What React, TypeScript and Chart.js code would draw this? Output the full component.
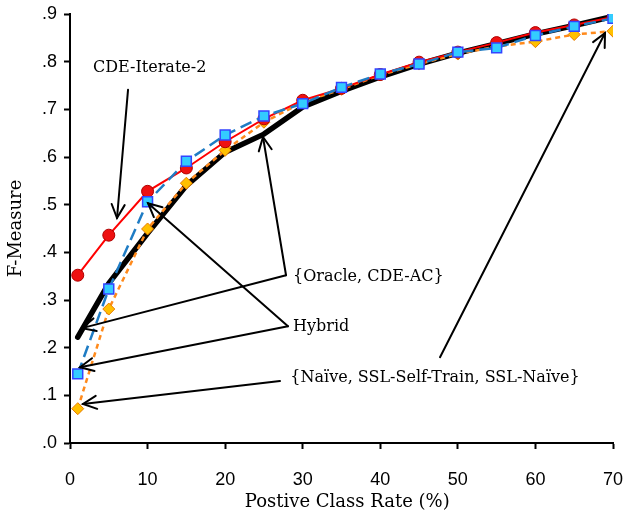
import React, { useEffect, useRef } from "react";
import { Chart, registerables } from "chart.js";

Chart.register(...registerables);

// ---- data ----
const xValues = [1, 5, 10, 15, 20, 25, 30, 35, 40, 45, 50, 55, 60, 65, 70];
const cdeIterate2 = [0.352, 0.436, 0.528, 0.577, 0.632, 0.68, 0.719, 0.744, 0.773, 0.799, 0.82, 0.84, 0.861, 0.877, 0.894];
const oracleCdeAc = [0.222, 0.335, 0.44, 0.54, 0.61, 0.648, 0.705, 0.738, 0.768, 0.795, 0.818, 0.838, 0.858, 0.876, 0.895];
const hybrid = [0.145, 0.323, 0.506, 0.591, 0.646, 0.686, 0.712, 0.746, 0.774, 0.795, 0.82, 0.829, 0.855, 0.874, 0.891];
const naive = [0.072, 0.281, 0.449, 0.545, 0.614, 0.673, 0.715, 0.742, 0.772, 0.795, 0.816, 0.832, 0.842, 0.857, 0.864];

const xTickLabels = ["0", "10", "20", "30", "40", "50", "60", "70"];
const yTickLabels = [".0", ".1", ".2", ".3", ".4", ".5", ".6", ".7", ".8", ".9"];

// annotation texts (data coordinates: x = left start, y = vertical middle)
const noteTexts = ["CDE-Iterate-2", "{Oracle, CDE-AC}", "Hybrid", "{Naïve, SSL-Self-Train, SSL-Naïve}"];
const noteX = [2.97, 28.75, 28.75, 28.4];
const noteY = [0.787, 0.348, 0.243, 0.136];

// arrows in data coordinates: [fromX, fromY, toX, toY]
const arrows: number[][] = [
  [7.48, 0.741, 6.06, 0.472],
  [27.85, 0.352, 24.88, 0.642],
  [27.85, 0.352, 1.55, 0.241],
  [28.1, 0.245, 10.06, 0.503],
  [28.1, 0.245, 1.29, 0.159],
  [27.07, 0.13, 1.68, 0.082],
  [47.7, 0.18, 68.97, 0.86],
];

const SERIF = "'DejaVu Serif', Georgia, serif";
const SANS = "'Liberation Sans', Arial, sans-serif";

const annotationPlugin = {
  id: "annotations",
  afterDatasetsDraw(chart: any) {
    const ctx = chart.ctx;
    const xs = chart.scales.x;
    const ys = chart.scales.y;
    ctx.save();
    ctx.strokeStyle = "#000";
    ctx.lineWidth = 2;
    ctx.lineCap = "round";
    arrows.forEach(([fx, fy, tx, ty]) => {
      const x1 = xs.getPixelForValue(fx);
      const y1 = ys.getPixelForValue(fy);
      const x2 = xs.getPixelForValue(tx);
      const y2 = ys.getPixelForValue(ty);
      ctx.beginPath();
      ctx.moveTo(x1, y1);
      ctx.lineTo(x2, y2);
      ctx.stroke();
      const ang = Math.atan2(y2 - y1, x2 - x1);
      const len = 15;
      const spread = 0.45;
      ctx.beginPath();
      ctx.moveTo(x2 - len * Math.cos(ang - spread), y2 - len * Math.sin(ang - spread));
      ctx.lineTo(x2, y2);
      ctx.lineTo(x2 - len * Math.cos(ang + spread), y2 - len * Math.sin(ang + spread));
      ctx.stroke();
    });
    ctx.fillStyle = "#000";
    ctx.font = `16px ${SERIF}`;
    ctx.textAlign = "left";
    ctx.textBaseline = "middle";
    noteTexts.forEach((t, i) => {
      ctx.fillText(t, xs.getPixelForValue(noteX[i]), ys.getPixelForValue(noteY[i]));
    });
    ctx.restore();
  },
};

export default function App() {
  const ref = useRef<HTMLCanvasElement>(null);
  useEffect(() => {
    if (!ref.current) return;
    const toPts = (arr: number[]) => arr.map((v, i) => ({ x: xValues[i], y: v }));
    const chart = new Chart(ref.current, {
      type: "line",
      data: {
        datasets: [
          {
            label: "Hybrid",
            data: toPts(hybrid),
            borderColor: "#1f7cc4",
            borderWidth: 2.5,
            borderDash: [12, 6],
            pointStyle: "rect",
            pointRadius: 7,
            pointBackgroundColor: "#33ccff",
            pointBorderColor: "#3344ff",
            pointBorderWidth: 1.5,
          },
          {
            label: "CDE-Iterate-2",
            data: toPts(cdeIterate2),
            borderColor: "#ff0000",
            borderWidth: 2,
            pointStyle: "circle",
            pointRadius: 6,
            pointBackgroundColor: "#ee1111",
            pointBorderColor: "#b00000",
            pointBorderWidth: 1,
          },
          {
            label: "Naive",
            data: toPts(naive),
            borderColor: "#ff8a1c",
            borderWidth: 2.5,
            borderDash: [5, 4],
            pointStyle: "rectRot",
            pointRadius: 6,
            pointBackgroundColor: "#ffc000",
            pointBorderColor: "#e87a00",
            pointBorderWidth: 1,
          },
          {
            label: "Oracle, CDE-AC",
            data: toPts(oracleCdeAc),
            borderColor: "#000000",
            borderWidth: 5.5,
            pointRadius: 0,
            borderCapStyle: "round",
            borderJoinStyle: "round",
          },
        ],
      },
      options: {
        animation: false,
        responsive: false,
        events: [],
        layout: { padding: { left: 0, right: 14, top: 14, bottom: 0 } },
        plugins: { legend: { display: false }, tooltip: { enabled: false } },
        scales: {
          x: {
            type: "linear",
            min: 0,
            max: 70,
            afterFit: (s: any) => {
              s.height = 71;
              s.paddingLeft = 0;
              s.paddingRight = 0;
            },
            afterBuildTicks: (s: any) => {
              s.ticks = xTickLabels.map((l) => ({ value: Number(l) }));
            },
            ticks: {
              color: "#000",
              font: { family: SANS, size: 18 },
              padding: 20,
              maxRotation: 0,
              callback: (v: any) => xTickLabels[xTickLabels.indexOf(String(v))] ?? "",
            },
            grid: { drawOnChartArea: false, drawTicks: true, tickLength: 6, tickColor: "#000", tickWidth: 2 },
            border: { display: true, color: "#000", width: 2 },
            title: {
              display: true,
              text: "  Postive Class Rate (%)",
              color: "#000",
              font: { family: SERIF, size: 18 },
              padding: { top: 0, bottom: 1 },
            },
          },
          y: {
            type: "linear",
            min: 0,
            max: 0.9,
            afterFit: (s: any) => {
              s.width = 70;
              s.paddingTop = 0;
              s.paddingBottom = 0;
            },
            afterBuildTicks: (s: any) => {
              s.ticks = yTickLabels.map((_, i) => ({ value: i / 10 }));
            },
            ticks: {
              color: "#000",
              font: { family: SANS, size: 18 },
              padding: 7,
              callback: (v: any) => yTickLabels[Math.round(Number(v) * 10)] ?? "",
            },
            grid: { drawOnChartArea: false, drawTicks: true, tickLength: 6, tickColor: "#000", tickWidth: 2 },
            border: { display: true, color: "#000", width: 2 },
            title: {
              display: true,
              text: "F-Measure",
              color: "#000",
              font: { family: SERIF, size: 18 },
              padding: { top: 6, bottom: 0 },
            },
          },
        },
      },
      plugins: [annotationPlugin],
    });
    return () => chart.destroy();
  }, []);
  return (
    <div style={{ position: "absolute", left: 0, top: 0, width: 627, height: 514, background: "#fff" }}>
      <canvas ref={ref} width={627} height={514} />
    </div>
  );
}
